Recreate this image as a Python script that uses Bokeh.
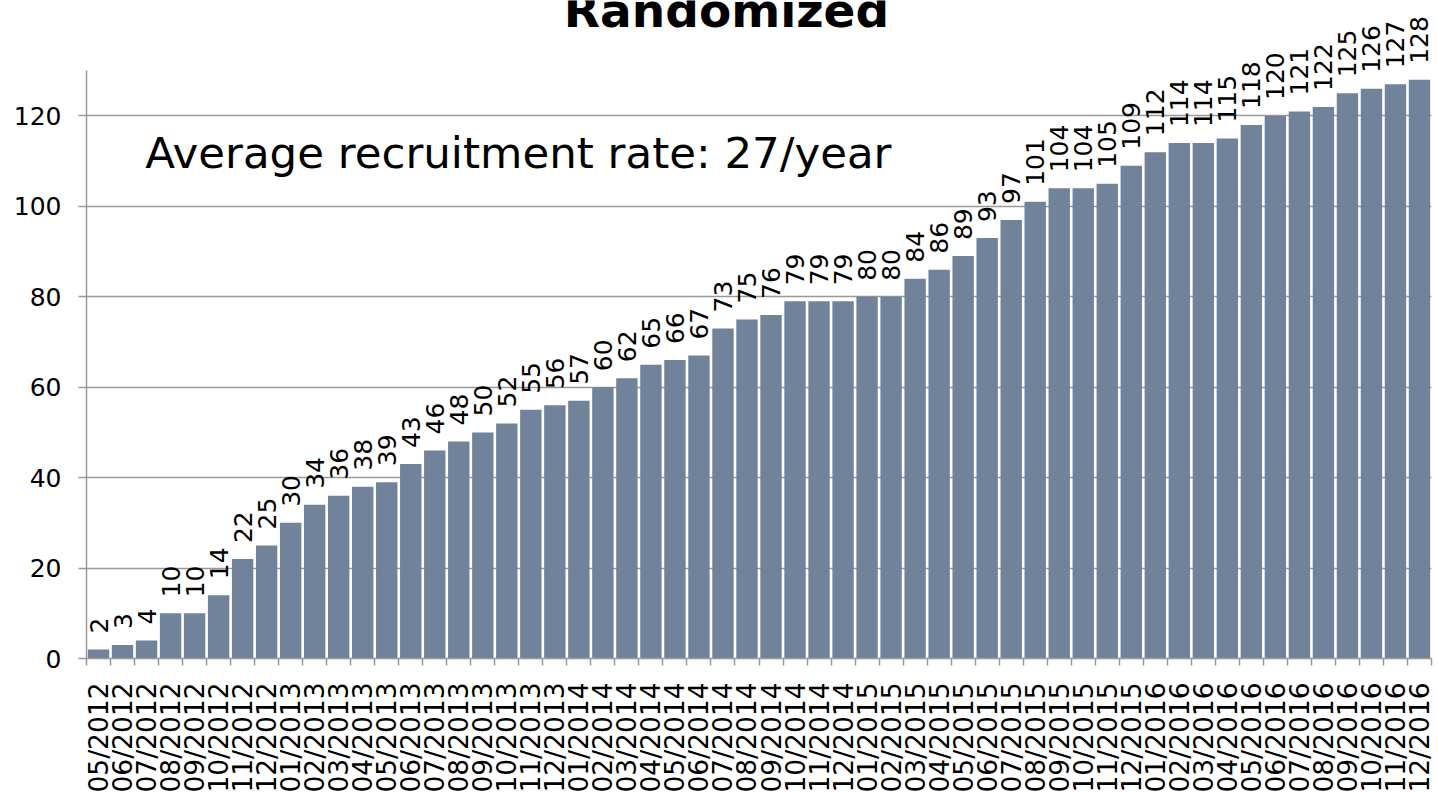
import math
from bokeh.plotting import figure
from bokeh.models import ColumnDataSource, Range1d, FixedTicker, Label
from bokeh.core.properties import value
from bokeh.embed import file_html
from bokeh.resources import INLINE

months = [
    "05/2012", "06/2012", "07/2012", "08/2012", "09/2012", "10/2012", "11/2012", "12/2012",
    "01/2013", "02/2013", "03/2013", "04/2013", "05/2013", "06/2013", "07/2013", "08/2013",
    "09/2013", "10/2013", "11/2013", "12/2013",
    "01/2014", "02/2014", "03/2014", "04/2014", "05/2014", "06/2014", "07/2014", "08/2014",
    "09/2014", "10/2014", "11/2014", "12/2014",
    "01/2015", "02/2015", "03/2015", "04/2015", "05/2015", "06/2015", "07/2015", "08/2015",
    "09/2015", "10/2015", "11/2015", "12/2015",
    "01/2016", "02/2016", "03/2016", "04/2016", "05/2016", "06/2016", "07/2016", "08/2016",
    "09/2016", "10/2016", "11/2016", "12/2016",
]
randomized = [
    2, 3, 4, 10, 10, 14, 22, 25,
    30, 34, 36, 38, 39, 43, 46, 48, 50, 52, 55, 56,
    57, 60, 62, 65, 66, 67, 73, 75, 76, 79, 79, 79,
    80, 80, 84, 86, 89, 93, 97, 101, 104, 104, 105, 109,
    112, 114, 114, 115, 118, 120, 121, 122, 125, 126, 127, 128,
]
y_ticks = [0, 20, 40, 60, 80, 100, 120]
title_text = "Randomized"
note_text = "Average recruitment rate: 27/year"

FONT = "DejaVu Sans"
BAR = "#71829B"
GRID = "#999999"

n = len(months)
xc = [i + 0.5 for i in range(n)]
src = ColumnDataSource(dict(x=xc, top=randomized, lab=[str(v) for v in randomized]))

W, H = 1438, 795
# frame reaches the canvas top so that labels above the axis top are not clipped
p = figure(width=W, height=H, output_backend="svg", toolbar_location=None,
           x_range=Range1d(0, n), y_range=Range1d(0, 145.54),
           min_border_left=86, min_border_right=7, min_border_top=0, min_border_bottom=134)
p.outline_line_color = None
p.background_fill_color = "white"
p.border_fill_color = "white"

p.vbar(x="x", top="top", width=0.89, source=src, fill_color=BAR, line_color=None)
p.text(x="x", y="top", text="lab", source=src, angle=math.pi / 2,
       text_align="left", text_baseline="middle", y_offset=-16,
       text_font=value(FONT), text_font_size=value("25px"), text_color="black")

# x axis
xa = p.xaxis[0]
xa.ticker = FixedTicker(ticks=xc, minor_ticks=list(range(n + 1)))
xa.major_label_overrides = {x: m for x, m in zip(xc, months)}
xa.major_label_orientation = math.pi / 2
xa.major_tick_out = 0
xa.major_tick_in = 0
xa.minor_tick_out = 7
xa.minor_tick_in = 0
xa.minor_tick_line_color = GRID
xa.minor_tick_line_width = 1.5
xa.axis_line_color = GRID
xa.axis_line_width = 1.5
xa.major_label_standoff = 17
xa.major_label_text_font = FONT
xa.major_label_text_font_size = "26.5px"
xa.major_label_text_color = "black"

# y axis
ya = p.yaxis[0]
ya.ticker = FixedTicker(ticks=y_ticks)
ya.bounds = (0, 130)
ya.major_tick_out = 8
ya.major_tick_in = 0
ya.minor_tick_out = 0
ya.minor_tick_in = 0
ya.major_tick_line_color = GRID
ya.major_tick_line_width = 1.5
ya.axis_line_color = GRID
ya.axis_line_width = 1.5
ya.major_label_standoff = 17
ya.major_label_text_font = FONT
ya.major_label_text_font_size = "25px"
ya.major_label_text_color = "black"

p.xgrid.grid_line_color = None
p.ygrid.ticker = FixedTicker(ticks=y_ticks)
p.ygrid.grid_line_color = GRID
p.ygrid.grid_line_width = 1.5

p.add_layout(Label(x=2.45, y=111.7, text=note_text, text_font=FONT, text_font_size="43.5px",
                   text_color="black", text_baseline="alphabetic", text_align="left"))
p.add_layout(Label(x=640, y=648, x_units="screen", y_units="screen", text=title_text,
                   text_font=FONT, text_font_size="47px", text_font_style="bold",
                   text_color="black", text_baseline="alphabetic", text_align="center"))

open("out.html", "w").write(file_html(p, INLINE))
